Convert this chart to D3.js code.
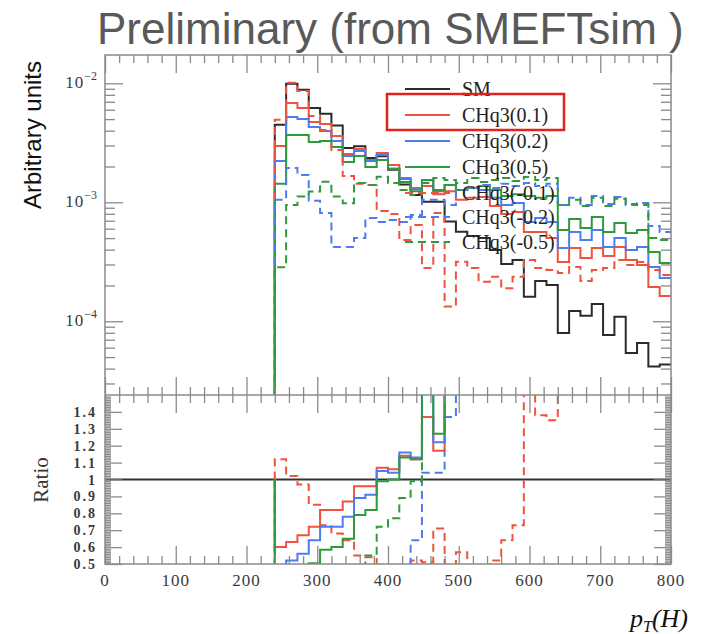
<html>
<head>
<meta charset="utf-8">
<script src="https://d3js.org/d3.v7.min.js"></script>
<style>
body{margin:0;background-color:#fff;}
svg text{font-family:"Liberation Serif",serif;}
</style>
</head>
<body>
<script type="text/javascript">
// bin edges of pT(H) (GeV)
var edges = [240,256,272,288,304,320,336,352,368,384,400,416,432,448,464,480,496,512,528,544,560,576,592,608,624,640,656,672,688,704,720,736,752,768,784,800];

// top panel, arbitrary units
var sm = [4.49e-3,9.93e-3,8.83e-3,6.19e-3,5.56e-3,4.41e-3,2.86e-3,2.96e-3,2.36e-3,2.44e-3,1.88e-3,1.41e-3,1.15e-3,1.01e-3,1.01e-3,6.88e-4,5.66e-4,5.21e-4,5.01e-4,3.97e-4,3.03e-4,3.27e-4,1.61e-4,2.18e-4,2.02e-4,7.97e-5,1.22e-4,1.11e-4,1.40e-4,7.67e-5,1.09e-4,5.42e-5,6.58e-5,4.17e-5,4.34e-5];
var chq3_p01 = [2.97e-3,6.83e-3,6.20e-3,4.73e-3,4.55e-3,3.61e-3,2.55e-3,2.81e-3,2.27e-3,2.60e-3,2.06e-3,1.60e-3,1.32e-3,1.37e-3,1.17e-3,1.24e-3,1.05e-3,1.09e-3,1.11e-3,9.31e-4,7.97e-4,8.29e-4,5.63e-4,5.63e-4,5.01e-4,3.15e-4,4.13e-4,3.40e-4,4.13e-4,3.54e-4,4.21e-4,3.27e-4,2.97e-4,1.94e-4,1.63e-4];
var chq3_p02 = [2.22e-3,5.21e-3,5.01e-3,4.29e-3,3.97e-3,3.27e-3,2.45e-3,2.70e-3,2.22e-3,2.50e-3,1.91e-3,1.57e-3,1.29e-3,1.54e-3,1.24e-3,1.40e-3,1.27e-3,1.32e-3,1.27e-3,1.09e-3,9.49e-4,9.87e-4,6.83e-4,7.38e-4,6.83e-4,4.13e-4,5.63e-4,4.82e-4,5.85e-4,4.21e-4,5.01e-4,3.97e-4,4.21e-4,2.86e-4,2.31e-4];
var chq3_p05 = [1.43e-3,3.68e-3,3.68e-3,3.21e-3,3.27e-3,2.92e-3,2.18e-3,2.45e-3,1.98e-3,2.27e-3,1.91e-3,1.48e-3,1.24e-3,1.54e-3,1.27e-3,1.40e-3,1.27e-3,1.32e-3,1.37e-3,1.27e-3,1.13e-3,1.17e-3,1.13e-3,1.09e-3,1.13e-3,5.85e-4,7.24e-4,6.08e-4,7.52e-4,5.63e-4,6.70e-4,5.52e-4,5.85e-4,3.82e-4,3.09e-4];
var chq3_m01 = [4.94e-3,1.01e-2,8.62e-3,5.31e-3,4.05e-3,2.75e-3,1.66e-3,1.43e-3,1.40e-3,8.45e-4,7.97e-4,4.82e-4,6.45e-4,2.81e-4,8.13e-4,1.33e-4,3.17e-4,2.81e-4,2.15e-4,2.37e-4,1.89e-4,2.37e-4,3.27e-4,2.81e-4,2.70e-4,2.55e-4,2.86e-4,2.18e-4,2.70e-4,2.81e-4,3.27e-4,2.97e-4,3.15e-4,2.70e-4,2.45e-4];
var chq3_m02 = [1.05e-3,1.94e-3,1.70e-3,1.03e-3,8.13e-4,4.21e-4,4.21e-4,5.01e-4,7.38e-4,6.83e-4,7.10e-4,6.83e-4,7.82e-4,1.05e-3,1.05e-3,9.49e-4,1.27e-3,1.32e-3,1.40e-3,1.32e-3,1.43e-3,1.37e-3,1.45e-3,1.37e-3,1.43e-3,9.49e-4,1.09e-3,9.49e-4,1.13e-3,9.68e-4,1.11e-3,9.49e-4,9.87e-4,6.32e-4,5.63e-4];
var chq3_m05 = [2.84e-4,9.49e-4,1.12e-3,1.23e-3,1.49e-3,1.12e-3,9.81e-4,1.45e-3,1.40e-3,1.64e-3,1.45e-3,1.27e-3,1.15e-3,1.45e-3,1.60e-3,1.54e-3,1.45e-3,1.60e-3,1.48e-3,1.54e-3,1.60e-3,1.51e-3,1.63e-3,1.54e-3,1.60e-3,9.49e-4,1.05e-3,9.31e-4,1.09e-3,9.31e-4,1.07e-3,9.68e-4,9.49e-4,5.01e-4,4.82e-4];

// ratio panel (to SM)
var ratio_p01 = [0.60,0.63,0.67,0.72,0.82,0.82,0.87,0.96,0.96,1.07,1.06,1.14,1.12,1.37,1.17,1.8,1.9,2.1,2.2,2.3,2.6,2.5,3.5,2.6,2.5,4.0,3.4,3.1,3.0,4.6,3.9,6.0,4.5,4.7,3.8];
var ratio_p02 = [0.45,0.52,0.56,0.64,0.72,0.72,0.78,0.89,0.91,1.05,1.04,1.16,1.13,1.6,1.22,2.0,2.2,2.5,2.6,2.7,3.1,3.0,4.2,3.4,3.4,5.2,4.6,4.3,4.2,5.5,4.6,7.3,6.4,6.9,5.3];
var ratio_p05 = [0.33,0.37,0.42,0.505,0.585,0.60,0.65,0.79,0.82,0.99,1.0,1.13,1.12,1.8,1.27,2.0,2.2,2.5,2.7,3.2,3.7,3.6,7.0,5.0,5.6,7.3,5.9,5.5,5.4,7.3,6.1,10.2,8.9,9.2,7.1];
var ratio_m01 = [1.12,1.02,0.97,0.85,0.73,0.68,0.64,0.55,0.54,0.35,0.42,0.34,0.52,0.51,0.71,0.19,0.57,0.45,0.43,0.52,0.64,0.73,2.0,1.38,1.35,3.2,2.3,2.0,1.9,3.7,3.0,5.5,4.8,6.5,5.6];
var ratio_m02 = [0.23,0.2,0.19,0.17,0.15,0.1,0.15,0.17,0.31,0.28,0.38,0.48,0.64,1.04,1.04,1.37,2.2,2.5,2.8,3.3,4.7,4.2,9.0,6.3,7.0,12,9.0,8.5,8.0,12.6,10,17.5,15,15,13];
var ratio_m05 = [0.06,0.1,0.13,0.2,0.27,0.25,0.34,0.49,0.55,0.72,0.77,0.89,0.99,1.6,1.6,2.2,2.6,3.1,3.0,3.9,5.3,4.6,10,7.0,8.0,12,8.6,8.4,7.8,12,9.8,17.8,14.4,12,11];

var labels = ["SM","CHq3(0.1)","CHq3(0.2)","CHq3(0.5)","CHq3(-0.1)","CHq3(-0.2)","CHq3(-0.5)"];
var xMajor = [0,100,200,300,400,500,600,700,800];
var yDecades = [1e-4,1e-3,1e-2];
var rMajor = [0.5,0.6,0.7,0.8,0.9,1.0,1.1,1.2,1.3,1.4];

var colors = ["#2b2b2b","#f0533d","#4d7cf2","#2f9a3c","#f0533d","#4d7cf2","#2f9a3c"];
var dashed = [false,false,false,false,true,true,true];
var top_vals = [sm,chq3_p01,chq3_p02,chq3_p05,chq3_m01,chq3_m02,chq3_m05];
var rat_vals = [null,ratio_p01,ratio_p02,ratio_p05,ratio_m01,ratio_m02,ratio_m05];

var w = 703, h = 634;
var L = 105, R = 671, T = 55, M = 395, B = 564;
var tickCol = "#8a8a8a";

var x = d3.scaleLinear().domain([0,800]).range([L,R]);
var y = d3.scaleLog().domain([2.4e-5,1.73e-2]).range([M,T]);
var yr = d3.scaleLinear().domain([0.5,1.5]).range([B,M]);

var svg = d3.select("body").append("svg").attr("width",w).attr("height",h);
var defs = svg.append("defs");
defs.append("clipPath").attr("id","clipTop").append("rect").attr("x",L).attr("y",T).attr("width",R-L).attr("height",M-T);
defs.append("clipPath").attr("id","clipRat").append("rect").attr("x",L).attr("y",M).attr("width",R-L).attr("height",B-M);

// title
svg.append("text").attr("x",97).attr("y",44).style("font-family","'Liberation Sans',Arial,sans-serif")
  .style("font-size","44px").attr("fill","#595959").text("Preliminary (from SMEFTsim )");

function stepPoints(vals, base){
  var p = [[edges[0], base]];
  vals.forEach(function(v,i){ p.push([edges[i], v]); });
  p.push([edges[edges.length-1], vals[vals.length-1]]);
  return p;
}

var lineTop = d3.line().curve(d3.curveStepAfter).x(function(d){return x(d[0]);}).y(function(d){return y(d[1]);});
var lineRat = d3.line().curve(d3.curveStepAfter).x(function(d){return x(d[0]);}).y(function(d){return yr(d[1]);});

var gTop = svg.append("g").attr("clip-path","url(#clipTop)");
top_vals.forEach(function(vals,i){
  gTop.append("path").attr("d",lineTop(stepPoints(vals, y.domain()[0])))
    .attr("fill","none").attr("stroke",colors[i]).attr("stroke-width",2)
    .attr("stroke-dasharray",dashed[i] ? "8,5" : null);
});

var gRat = svg.append("g").attr("clip-path","url(#clipRat)");
gRat.append("line").attr("x1",x(0)).attr("x2",x(800)).attr("y1",yr(1)).attr("y2",yr(1))
  .attr("stroke","#333").attr("stroke-width",2);
// dashed first, solid on top
[4,5,6,1,2,3].forEach(function(i){
  gRat.append("path").attr("d",lineRat(stepPoints(rat_vals[i], 1)))
    .attr("fill","none").attr("stroke",colors[i]).attr("stroke-width",2)
    .attr("stroke-dasharray",dashed[i] ? "8,5" : null);
});

// frames
svg.append("rect").attr("x",L).attr("y",T).attr("width",R-L).attr("height",B-T)
  .attr("fill","none").attr("stroke",tickCol).attr("stroke-width",1.5);
svg.append("line").attr("x1",L).attr("x2",R).attr("y1",M).attr("y2",M).attr("stroke",tickCol).attr("stroke-width",1.5);

function styleAxis(g){
  g.select(".domain").remove();
  g.selectAll(".tick line").attr("stroke",tickCol).attr("stroke-width",1.3);
}

var xMinor = d3.range(0,801,20).filter(function(v){return v%100 !== 0;});
function xTicks(ypos, down){
  var mk = down ? d3.axisBottom : d3.axisTop;
  svg.append("g").attr("transform","translate(0,"+ypos+")").call(mk(x).tickValues(xMinor).tickSize(8).tickFormat("")).call(styleAxis);
  svg.append("g").attr("transform","translate(0,"+ypos+")").call(mk(x).tickValues(xMajor).tickSize(18).tickFormat("")).call(styleAxis);
}
xTicks(T, true);
xTicks(M, false);
xTicks(M, true);
xTicks(B, false);

// log y ticks
var yMinor = [];
[1e-5,1e-4,1e-3].forEach(function(d){
  for (var k=2;k<10;k++){ var v=k*d; if (v>=y.domain()[0] && v<=y.domain()[1]) yMinor.push(v); }
});
[[L,d3.axisRight],[R,d3.axisLeft]].forEach(function(s){
  svg.append("g").attr("transform","translate("+s[0]+",0)").call(s[1](y).tickValues(yMinor).tickSize(10).tickFormat("")).call(styleAxis);
  svg.append("g").attr("transform","translate("+s[0]+",0)").call(s[1](y).tickValues(yDecades).tickSize(18).tickFormat("")).call(styleAxis);
});

// ratio y ticks
var rMinor = d3.range(50,151,1).map(function(v){return v/100;}).filter(function(v){return Math.round(v*100)%10 !== 0;});
[[L,d3.axisRight],[R,d3.axisLeft]].forEach(function(s){
  svg.append("g").attr("transform","translate("+s[0]+",0)").call(s[1](yr).tickValues(rMinor).tickSize(6).tickFormat("")).call(styleAxis);
  svg.append("g").attr("transform","translate("+s[0]+",0)").call(s[1](yr).tickValues(rMajor).tickSize(17).tickFormat("")).call(styleAxis);
});

// tick labels
var labCol = "#3a3a3a";
yDecades.forEach(function(v){
  var t = svg.append("text").attr("x",97).attr("y",y(v)+5).attr("text-anchor","end")
    .attr("fill",labCol).style("font-size","17px");
  t.append("tspan").style("letter-spacing","1px").text("10");
  t.append("tspan").attr("dy",-8).style("font-size","12px").text("\u2212" + Math.round(-Math.log10(v)));
});
rMajor.forEach(function(v){
  svg.append("text").attr("x",97).attr("y",yr(v)+5).attr("text-anchor","end")
    .attr("fill",labCol).style("font-size","14px").style("font-weight","bold").style("letter-spacing","2px")
    .text(v === 1 ? "1" : d3.format(".1f")(v));
});
xMajor.forEach(function(v){
  svg.append("text").attr("x",x(v)).attr("y",586).attr("text-anchor","middle")
    .attr("fill",labCol).style("font-size","17px").style("letter-spacing","1px").text(v);
});

// axis titles
svg.append("text").attr("transform","translate(41,135) rotate(-90)").attr("text-anchor","middle")
  .style("font-family","'Liberation Sans',Arial,sans-serif").style("font-size","24px").attr("fill","#111")
  .text("Arbitrary units");
svg.append("text").attr("transform","translate(48,480) rotate(-90)").attr("text-anchor","middle")
  .style("font-size","21px").attr("fill","#333").text("Ratio");
var xt = svg.append("text").attr("x",688).attr("y",627).attr("text-anchor","end")
  .style("font-size","26px").style("font-style","italic").attr("fill","#111");
xt.append("tspan").text("p");
xt.append("tspan").attr("dy",5).style("font-size","16px").text("T");
xt.append("tspan").attr("dy",-5).text("(H)");

// legend
var legY = [89,115,141,167,193,217,242];
labels.forEach(function(lab,i){
  svg.append("line").attr("x1",405).attr("x2",450).attr("y1",legY[i]).attr("y2",legY[i])
    .attr("stroke",colors[i]).attr("stroke-width",2).attr("stroke-dasharray",dashed[i] ? "8,5" : null);
  svg.append("text").attr("x",462).attr("y",legY[i]+7).style("font-size","20px").attr("fill","#222").text(lab);
});
svg.append("rect").attr("x",387).attr("y",94).attr("width",177).attr("height",36)
  .attr("fill","none").attr("stroke","#e3231b").attr("stroke-width",2.5);
</script>
</body>
</html>
